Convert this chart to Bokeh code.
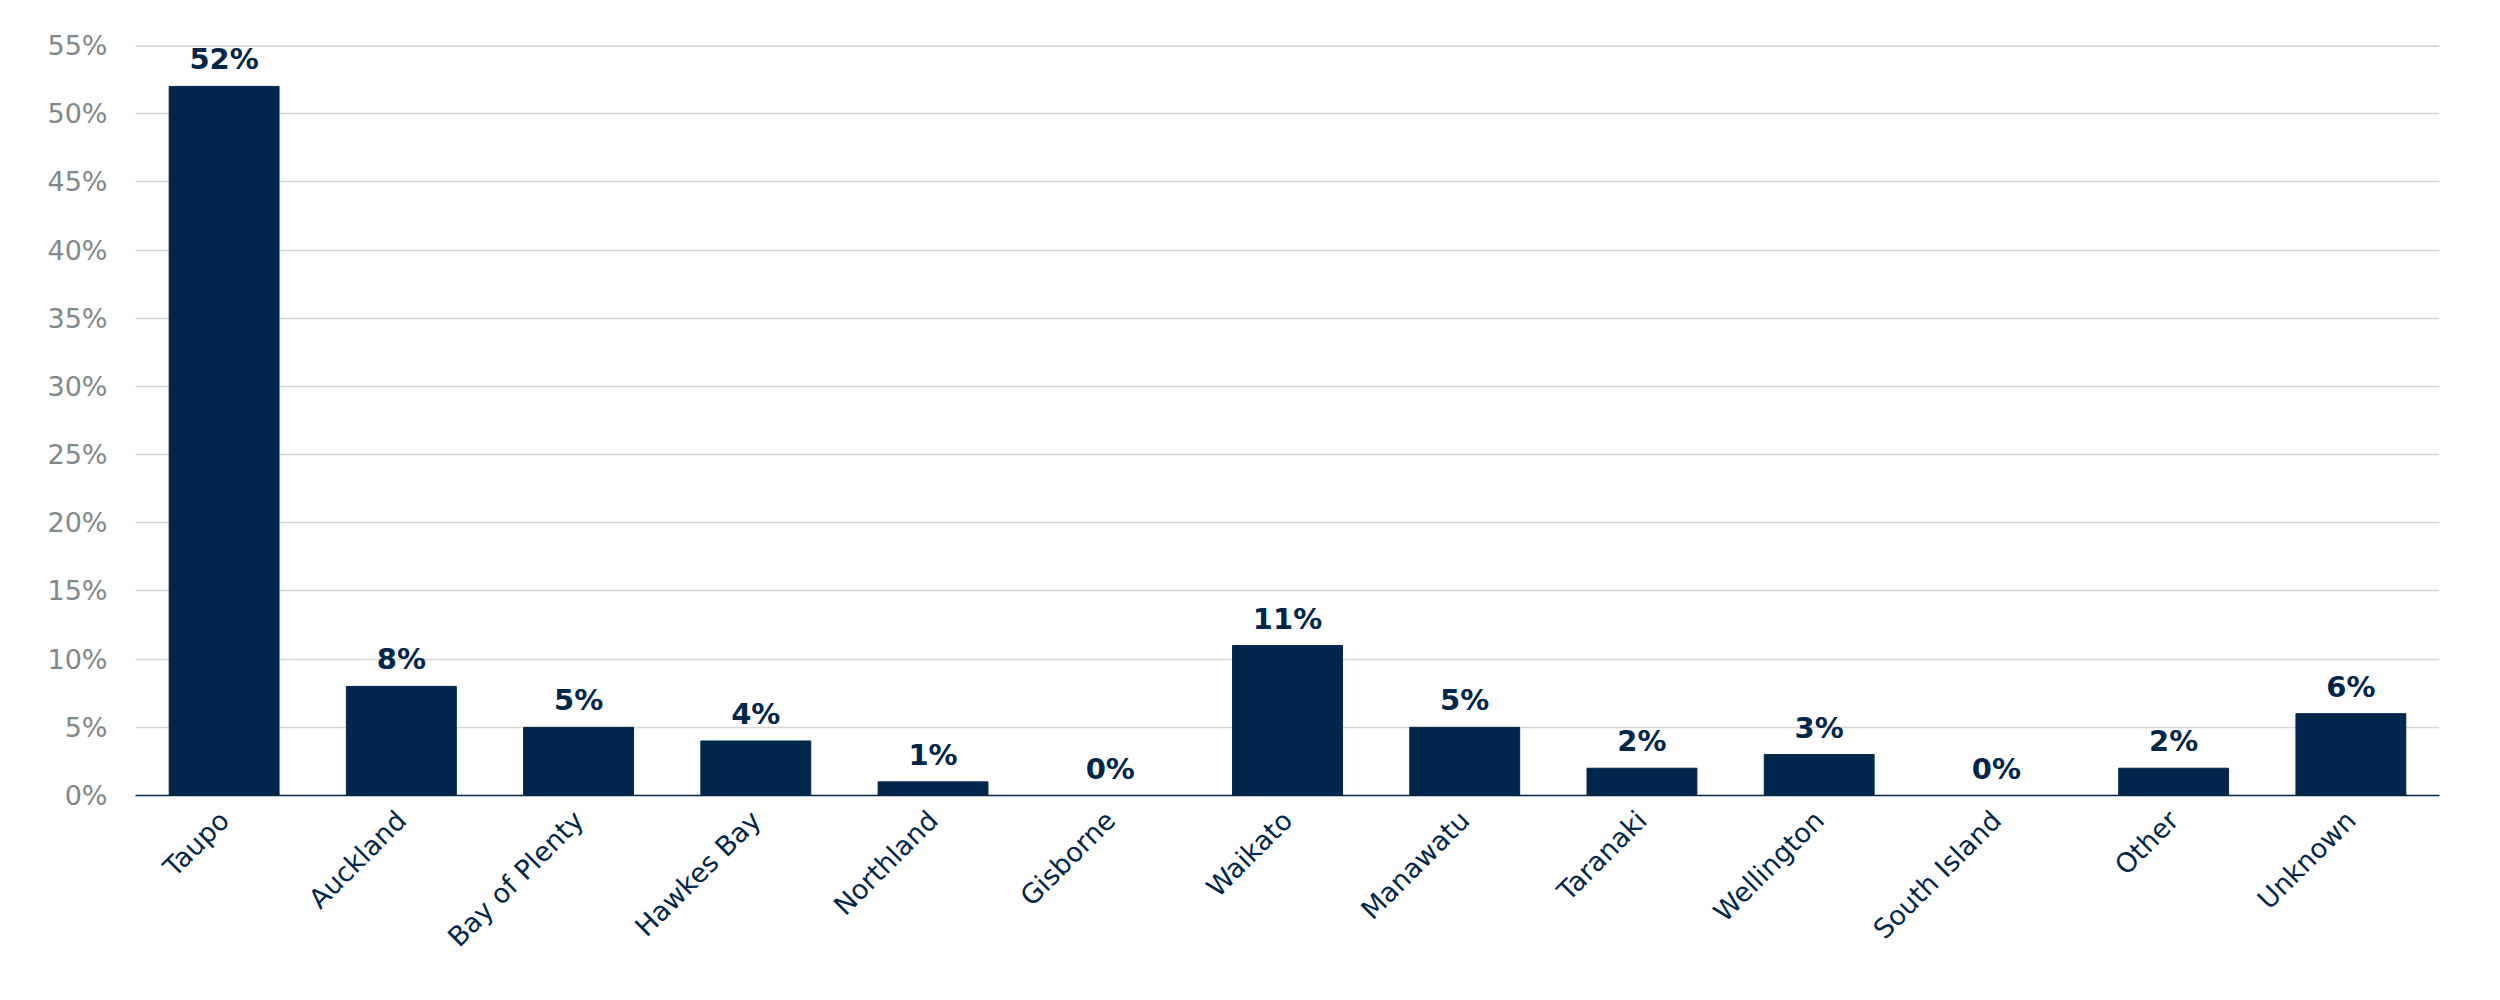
from bokeh.plotting import figure
from bokeh.models import ColumnDataSource, FixedTicker, PrintfTickFormatter, LabelSet, Span
from bokeh.core.properties import value
from bokeh.embed import file_html
from bokeh.resources import INLINE
import math

regions = ["Taupo", "Auckland", "Bay of Plenty", "Hawkes Bay", "Northland", "Gisborne",
           "Waikato", "Manawatu", "Taranaki", "Wellington", "South Island", "Other", "Unknown"]
shares = [52, 8, 5, 4, 1, 0, 11, 5, 2, 3, 0, 2, 6]
y_ticks = [0, 5, 10, 15, 20, 25, 30, 35, 40, 45, 50, 55]

NAVY = "#00264b"

src = ColumnDataSource(dict(x=regions, top=shares, lab=[f"{v}%" for v in shares]))

p = figure(x_range=regions, y_range=(0, 55), frame_width=2304, frame_height=750,
           min_border_left=135, min_border_right=45, min_border_top=45, min_border_bottom=150,
           output_backend="svg", toolbar_location=None)
p.vbar(x="x", top="top", width=0.62, source=src, fill_color=NAVY, line_color=NAVY)

labels = LabelSet(x="x", y="top", text="lab", source=src, text_align="center",
                  text_baseline="bottom", y_offset=10, text_font_size="29px",
                  text_font_style="bold", text_color=NAVY, text_font=value("DejaVu Sans"))
p.add_layout(labels)

top_line = Span(location=y_ticks[-1], dimension="width", line_color="#c4c4c4", line_width=2.5)
p.add_layout(top_line)

p.outline_line_color = None
p.xgrid.grid_line_color = None
p.ygrid.grid_line_color = "#d6d6d6"
p.ygrid.grid_line_width = 1.5
p.yaxis.ticker = FixedTicker(ticks=y_ticks)
p.yaxis.formatter = PrintfTickFormatter(format="%d%%")
p.yaxis.axis_line_color = None
p.yaxis.major_tick_line_color = None
p.yaxis.minor_tick_line_color = None
p.yaxis.major_label_text_color = "#808888"
p.yaxis.major_label_text_font_size = "27px"
p.yaxis.major_label_text_font = "DejaVu Sans"
p.yaxis.major_label_standoff = 22

p.xaxis.axis_line_color = NAVY
p.xaxis.axis_line_width = 1.5
p.xaxis.major_tick_line_color = None
p.xaxis.minor_tick_line_color = None
p.xaxis.major_label_orientation = math.pi / 4
p.xaxis.major_label_text_color = NAVY
p.xaxis.major_label_text_font_size = "27px"
p.xaxis.major_label_text_font = "DejaVu Sans"
p.xaxis.major_label_standoff = 14

open("out.html", "w").write(file_html(p, INLINE))
